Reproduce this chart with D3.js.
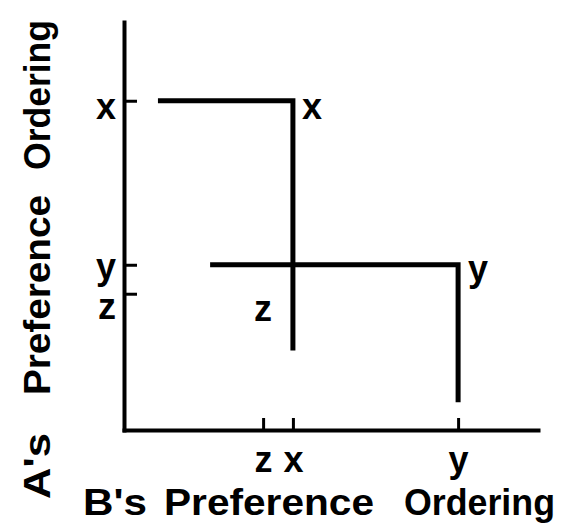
<!DOCTYPE html>
<html>
<head>
<meta charset="utf-8">
<script src="https://cdn.jsdelivr.net/npm/d3@7"></script>
<style>
  html, body { margin: 0; padding: 0; background: #fff; }
  svg { display: block; font-family: "Liberation Sans", Arial, sans-serif; font-weight: bold; }
</style>
</head>
<body>
<div id="chart"></div>
<script>
// ordenações de preferência (posição no eixo, unidade arbitrária 0-10)
const bAlternatives = ["z", "x", "y"];
const bPositions    = [3.36, 4.08, 8.07];
const aAlternatives = ["x", "y", "z"];
const aPositions    = [8.07, 4.05, 3.34];

// curvas em L: [posição B, posição A]
const curveX = [[0.82, 8.07], [4.08, 8.07], [4.08, 1.95]];
const curveY = [[2.08, 4.05], [8.07, 4.05], [8.07, 0.68]];

// rótulos dentro do gráfico: [texto, posição B, posição A]
const pointLabels = [["x", 4.08, 8.07], ["y", 8.07, 4.05], ["z", 3.36, 3.34]];

// títulos dos eixos, palavra a palavra
const xTitleWords = ["B's", "Preference", "Ordering"];
const yTitleWords = ["A's", "Preference", "Ordering"];

const W = 564, H = 525;
const margin = { top: 22, right: 26, bottom: 95, left: 124 };
const FONT = "36px";

const svg = d3.select("#chart").append("svg")
  .attr("width", W)
  .attr("height", H);

const xScale = d3.scaleLinear().domain([0, 10]).range([margin.left, W - margin.right]);
const yScale = d3.scaleLinear().domain([0, 10]).range([H - margin.bottom, margin.top]);

// eixo x
const xAxis = svg.append("g")
  .attr("transform", `translate(0,${H - margin.bottom})`)
  .call(d3.axisBottom(xScale)
    .tickValues(bPositions)
    .tickSize(-12)
    .tickSizeOuter(0)
    .tickFormat((d, i) => bAlternatives[i]));

// eixo y
const yAxis = svg.append("g")
  .attr("transform", `translate(${margin.left},0)`)
  .call(d3.axisLeft(yScale)
    .tickValues(aPositions)
    .tickSize(-13)
    .tickSizeOuter(0)
    .tickFormat((d, i) => aAlternatives[i]));

[xAxis, yAxis].forEach(g => {
  g.select(".domain").attr("stroke", "#000").attr("stroke-width", 4).attr("stroke-linecap", "square");
  g.selectAll(".tick line").attr("stroke", "#000").attr("stroke-width", 3);
  g.selectAll(".tick text")
    .attr("fill", "#000")
    .attr("font-size", FONT)
    .attr("font-family", "Liberation Sans, Arial, sans-serif")
    .attr("font-weight", "bold");
});

xAxis.selectAll(".tick text").attr("y", 42).attr("dy", 0);

// deslocamento vertical dos rótulos do eixo y (linha de base abaixo do tick)
const yLabelShift = { x: 18, y: 14, z: 25 };
yAxis.selectAll(".tick text")
  .attr("x", -8)
  .attr("dy", 0)
  .attr("y", (d, i) => yLabelShift[aAlternatives[i]]);

// curvas
const line = d3.line()
  .x(d => xScale(d[0]))
  .y(d => yScale(d[1]));

[curveX, curveY].forEach(c => {
  svg.append("path")
    .attr("d", line(c))
    .attr("fill", "none")
    .attr("stroke", "#000")
    .attr("stroke-width", 5)
    .attr("stroke-linejoin", "miter");
});

// rótulos dos pontos
const labelOffset = { x: [19, 18], y: [20, 16], z: [0, 27] };
svg.selectAll(".pt-label")
  .data(pointLabels)
  .enter()
  .append("text")
  .attr("class", "pt-label")
  .attr("x", d => xScale(d[1]) + labelOffset[d[0]][0])
  .attr("y", d => yScale(d[2]) + labelOffset[d[0]][1])
  .attr("text-anchor", "middle")
  .attr("font-size", FONT)
  .text(d => d[0]);

// posição inicial e largura de cada palavra dos títulos
function drawTitle(g, words, starts, lens) {
  const t = g.append("text").attr("font-size", "37px");
  words.forEach((w, i) => {
    t.append("tspan")
      .attr("x", starts[i])
      .attr("textLength", lens[i])
      .attr("lengthAdjust", "spacingAndGlyphs")
      .text(w);
  });
}

drawTitle(svg.append("g").attr("transform", "translate(83,515)"),
  xTitleWords, [0, 81, 321], [64, 210, 151]);
drawTitle(svg.append("g").attr("transform", "translate(50,499) rotate(-90)"),
  yTitleWords, [0, 104, 329], [66, 200, 150]);
</script>
</body>
</html>
